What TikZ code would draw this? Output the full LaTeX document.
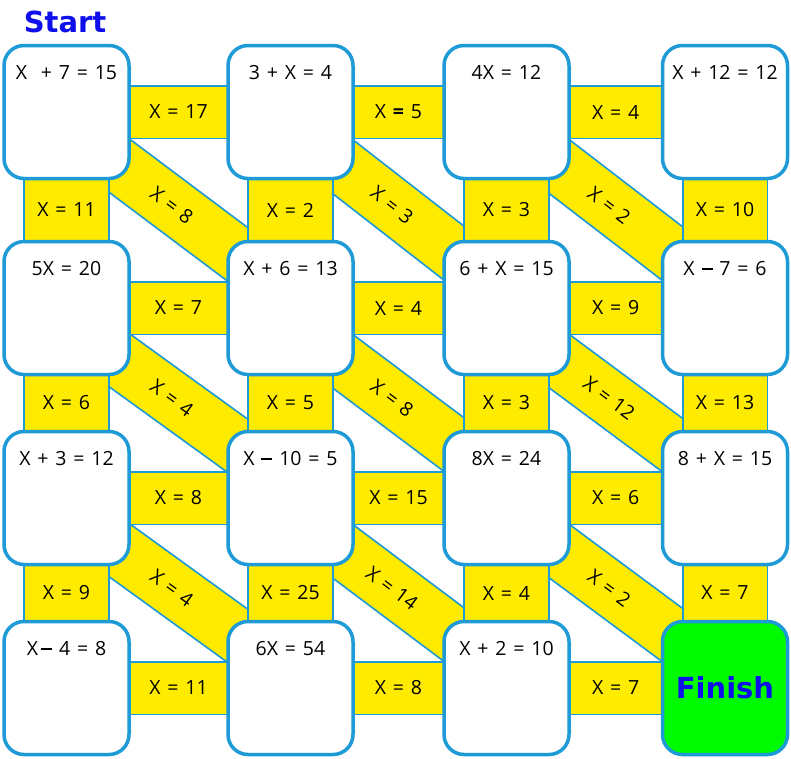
\documentclass[tikz,border=0pt]{standalone}
\usepackage{fontspec}
\setmainfont{Open Sans}[WordSpace=1.35]
\newfontfamily\titlefont{DejaVu Sans}
\usetikzlibrary{backgrounds}

\definecolor{mazeblue}{RGB}{30,155,215}
\definecolor{mazeyellow}{RGB}{255,235,0}
\definecolor{mazegreen}{RGB}{0,250,0}
\definecolor{titleblue}{RGB}{15,15,235}

\newcommand{\mdash}{\rule[5.5pt]{11pt}{2.6pt}}

\begin{document}
\begin{tikzpicture}[x=1pt, y=-1pt,
    box/.style={draw=mazeblue, line width=3.5pt, fill=white, rounded corners=20pt,
        minimum width=125pt, minimum height=133pt},
    eq/.style={anchor=center, yshift=-29pt, font=\fontsize{19.5}{22}\selectfont},
    hbar/.style={draw=mazeblue, line width=1.8pt, double=mazeyellow, double distance=51pt,
        font=\fontsize{19.5}{22}\selectfont},
    vbar/.style={hbar, double distance=83pt},
    diag/.style={hbar, double distance=53pt},
    title/.style={font=\titlefont\bfseries\fontsize{29}{31}\selectfont, text=titleblue}]

\useasboundingbox (0,0) rectangle (791,758);

\node[title] (start) at (65,22) {Start};

% the squares
\node[box, label={[eq]north:X\ \ + 7 = 15}] (b11) at (66.5,112) {};
\node[box, label={[eq]north:3 + X = 4}] (b12) at (290.5,112) {};
\node[box, label={[eq]north:4X = 12}] (b13) at (506.5,112) {};
\node[box, label={[eq]north:X + 12 = 12}] (b14) at (725,112) {};

\node[box, label={[eq]north:5X = 20}] (b21) at (66.5,308) {};
\node[box, label={[eq]north:X + 6 = 13}] (b22) at (290.5,308) {};
\node[box, label={[eq]north:6 + X = 15}] (b23) at (506.5,308) {};
\node[box, label={[eq]north:X \mdash\ 7 = 6}] (b24) at (725,308) {};

\node[box, label={[eq]north:X + 3 = 12}] (b31) at (66.5,498) {};
\node[box, label={[eq]north:X \mdash\ 10 = 5}] (b32) at (290.5,498) {};
\node[box, label={[eq]north:8X = 24}] (b33) at (506.5,498) {};
\node[box, label={[eq]north:8 + X = 15}] (b34) at (725,498) {};

\node[box, label={[eq]north:X\,\mdash\ 4 = 8}] (b41) at (66.5,688) {};
\node[box, label={[eq]north:6X = 54}] (b42) at (290.5,688) {};
\node[box, label={[eq]north:X + 2 = 10}] (b43) at (506.5,688) {};
\node[box, fill=mazegreen, title] (b44) at (725,688) {Finish};

\begin{scope}[on background layer]
% slanted paths
\draw[diag] ([yshift=-14pt]b11.center) -- node[sloped, pos=0.47] {X = 8} ([yshift=14pt]b22.center);
\draw[diag] ([yshift=-14pt]b12.center) -- node[sloped, pos=0.47] {X = 3} ([yshift=14pt]b23.center);
\draw[diag] ([yshift=-14pt]b13.center) -- node[sloped, pos=0.47] {X = 2} ([yshift=14pt]b24.center);
\draw[diag] ([yshift=-14pt]b21.center) -- node[sloped, pos=0.47] {X = 4} ([yshift=14pt]b32.center);
\draw[diag] ([yshift=-14pt]b22.center) -- node[sloped, pos=0.47] {X = 8} ([yshift=14pt]b33.center);
\draw[diag] ([yshift=-14pt]b23.center) -- node[sloped, pos=0.47] {X = 12} ([yshift=14pt]b34.center);
\draw[diag] ([yshift=-14pt]b31.center) -- node[sloped, pos=0.47] {X = 4} ([yshift=14pt]b42.center);
\draw[diag] ([yshift=-14pt]b32.center) -- node[sloped, pos=0.47] {X = 14} ([yshift=14pt]b43.center);
\draw[diag] ([yshift=-14pt]b33.center) -- node[sloped, pos=0.47] {X = 2} ([yshift=14pt]b44.center);

% across
\draw[hbar] (b11.center) -- node {X = 17} (b12.center);
\draw[hbar] (b12.center) -- node {X \textbf{=} 5} (b13.center);
\draw[hbar] (b13.center) -- node {X = 4} (b14.center);
\draw[hbar] (b21.center) -- node {X = 7} (b22.center);
\draw[hbar] (b22.center) -- node {X = 4} (b23.center);
\draw[hbar] (b23.center) -- node {X = 9} (b24.center);
\draw[hbar] (b31.center) -- node {X = 8} (b32.center);
\draw[hbar] (b32.center) -- node {X = 15} (b33.center);
\draw[hbar] (b33.center) -- node {X = 6} (b34.center);
\draw[hbar] (b41.center) -- node {X = 11} (b42.center);
\draw[hbar] (b42.center) -- node {X = 8} (b43.center);
\draw[hbar] (b43.center) -- node {X = 7} (b44.center);

% down
\draw[vbar] (b11.center) -- node {X = 11} (b21.center);
\draw[vbar] (b12.center) -- node {X = 2} (b22.center);
\draw[vbar] (b13.center) -- node {X = 3} (b23.center);
\draw[vbar] (b14.center) -- node {X = 10} (b24.center);
\draw[vbar] (b21.center) -- node {X = 6} (b31.center);
\draw[vbar] (b22.center) -- node {X = 5} (b32.center);
\draw[vbar] (b23.center) -- node {X = 3} (b33.center);
\draw[vbar] (b24.center) -- node {X = 13} (b34.center);
\draw[vbar] (b31.center) -- node {X = 9} (b41.center);
\draw[vbar] (b32.center) -- node {X = 25} (b42.center);
\draw[vbar] (b33.center) -- node {X = 4} (b43.center);
\draw[vbar] (b34.center) -- node {X = 7} (b44.center);
\end{scope}

\end{tikzpicture}
\end{document}
